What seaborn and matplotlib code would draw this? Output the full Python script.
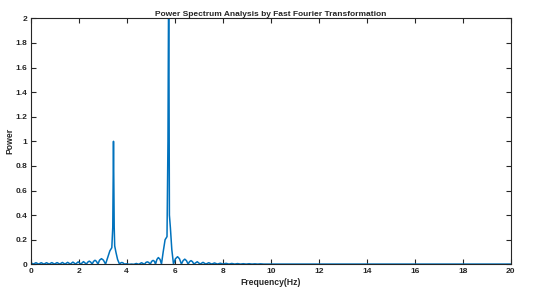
import numpy as np
import pandas as pd
import matplotlib
matplotlib.use('Agg')
import matplotlib.pyplot as plt
import seaborn as sns

# Spectrum values (frequency in Hz, power)
freq_hz = [0.0, 0.11, 0.22, 0.33, 0.44, 0.55, 0.66, 0.77, 0.88, 0.99,
           1.10, 1.21, 1.32, 1.43, 1.54, 1.65, 1.76, 1.87, 1.98, 2.09,
           2.20, 2.32, 2.38, 2.44, 2.50, 2.56, 2.62, 2.68, 2.74, 2.80,
           2.87, 2.95, 3.03, 3.12,
           3.20, 3.30, 3.38, 3.42, 3.45, 3.48, 3.50, 3.55, 3.62, 3.70,
           3.75, 3.80, 3.85, 3.90, 4.00, 4.10, 4.20, 4.30, 4.40, 4.50,
           4.62, 4.74, 4.80, 4.86, 4.92, 4.98, 5.04, 5.10, 5.16, 5.20,
           5.26, 5.32, 5.39, 5.45,
           5.52, 5.60, 5.68, 5.72, 5.75, 5.78, 5.82, 5.88, 5.95,
           6.03, 6.12, 6.20, 6.28, 6.35, 6.42, 6.49, 6.56, 6.62, 6.68,
           6.74, 6.80, 6.94, 7.06, 7.18, 7.30,
           7.42, 7.54, 7.66, 7.78, 7.90, 8.02, 8.14, 8.26, 8.38, 8.50,
           8.62, 8.74, 8.86, 8.98, 9.10, 9.22, 9.34, 9.46, 9.58, 9.70,
           10.0, 12.0, 14.0, 16.0, 18.0, 20.0]
power = [0.014, 0.002, 0.013, 0.002, 0.013, 0.002, 0.013, 0.002, 0.014, 0.002,
         0.014, 0.002, 0.015, 0.002, 0.016, 0.002, 0.018, 0.002, 0.020, 0.002,
         0.022, 0.002, 0.018, 0.026, 0.018, 0.002, 0.024, 0.033, 0.024, 0.002,
         0.034, 0.046, 0.034, 0.002,
         0.050, 0.110, 0.135, 0.300, 1.000, 0.300, 0.150, 0.100, 0.040, 0.002,
         0.011, 0.015, 0.011, 0.002, 0.004, 0.000, 0.002, 0.000, 0.007, 0.000,
         0.013, 0.000, 0.015, 0.020, 0.015, 0.000, 0.024, 0.032, 0.024, 0.000,
         0.040, 0.055, 0.040, 0.002,
         0.100, 0.200, 0.225, 1.000, 2.400, 0.400, 0.300, 0.120, 0.002,
         0.045, 0.062, 0.045, 0.002, 0.030, 0.042, 0.030, 0.002, 0.022, 0.030,
         0.022, 0.002, 0.021, 0.002, 0.016, 0.002,
         0.013, 0.002, 0.011, 0.002, 0.009, 0.002, 0.008, 0.002, 0.007, 0.002,
         0.006, 0.002, 0.005, 0.002, 0.005, 0.002, 0.004, 0.002, 0.004, 0.002,
         0.002, 0.002, 0.002, 0.002, 0.002, 0.002]

x_ticks = [0, 2, 4, 6, 8, 10, 12, 14, 16, 18, 20]
y_ticks = [0, 0.2, 0.4, 0.6, 0.8, 1.0, 1.2, 1.4, 1.6, 1.8, 2.0]
y_tick_labels = ['0', '0.2', '0.4', '0.6', '0.8', '1', '1.2', '1.4', '1.6', '1.8', '2']

df = pd.DataFrame({'Frequency': freq_hz, 'Power': power})

sns.set_style('ticks')
plt.rcParams['font.family'] = ['Liberation Sans', 'DejaVu Sans']

fig = plt.figure(figsize=(5.5, 2.98), dpi=100)
ax = fig.add_axes([0.0558, 0.113, 0.8727, 0.8256])

sns.lineplot(data=df, x='Frequency', y='Power', ax=ax, color='#0072BD',
             linewidth=1.1, sort=False, estimator=None)

ax.set_xlim(0, 20)
ax.set_ylim(0, 2)
ax.set_xticks(x_ticks)
ax.set_yticks(y_ticks)
ax.set_yticklabels(y_tick_labels)
ax.tick_params(direction='in', length=3.5, width=0.8, top=True, right=True,
               labelsize=6, pad=2.5, colors='#262626')
for lbl in ax.get_xticklabels() + ax.get_yticklabels():
    lbl.set_fontweight('bold')
for sp in ax.spines.values():
    sp.set_linewidth(0.8)
    sp.set_color('#262626')

ax.set_xlabel('Frequency(Hz)', fontsize=6.2, fontweight='bold', labelpad=2)
ax.set_ylabel('Power', fontsize=6.2, fontweight='bold', labelpad=1)
ax.set_title('Power Spectrum Analysis by Fast Fourier Transformation',
             fontsize=6, fontweight='bold', pad=2)

fig.savefig('out.png', dpi=100)
